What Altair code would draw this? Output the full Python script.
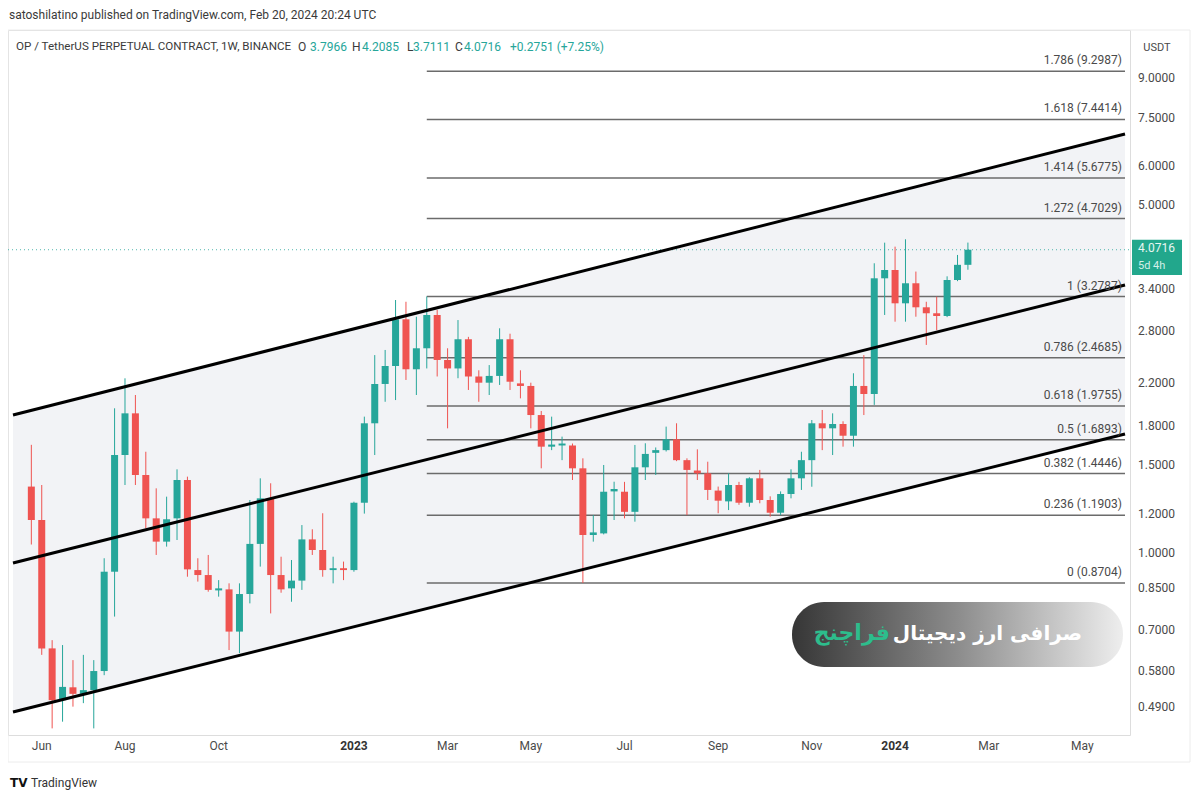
import altair as alt
import pandas as pd

# ---------------- data ----------------
first_week = "2022-05-30"
opens = [1.36, 1.165, 0.643, 0.506, 0.537, 0.521, 0.530, 0.579, 0.917, 1.574,
         1.909, 1.435, 1.174, 1.054, 1.174, 1.402, 0.924, 0.903, 0.841, 0.845,
         0.695, 0.827, 1.043, 1.288, 0.903, 0.849, 0.880, 1.065, 1.014, 0.924,
         0.932, 0.924, 1.262, 1.823, 2.187, 2.377, 2.95, 2.341, 2.58, 3.01,
         2.444, 2.35, 2.69, 2.264, 2.2, 2.27, 2.69, 2.193, 2.167, 1.894,
         1.636, 1.645, 1.645, 1.48, 1.087, 1.095, 1.33, 1.328, 1.21, 1.487,
         1.59, 1.61, 1.693, 1.537, 1.465, 1.446, 1.335, 1.27, 1.37, 1.262,
         1.413, 1.278, 1.205, 1.314, 1.413, 1.537, 1.823, 1.781, 1.817, 1.721,
         2.167, 2.088, 3.567, 3.707, 3.177, 3.486, 3.119, 3.034, 2.996, 3.539,
         3.7966]
highs = [1.65, 1.37, 0.668, 0.653, 0.609, 0.624, 0.609, 0.976, 1.954, 2.245,
         2.078, 1.598, 1.349, 1.298, 1.473, 1.424, 0.976, 0.991, 0.882, 0.869,
         0.869, 1.278, 1.413, 1.381, 0.983, 0.968, 1.138, 1.116, 1.202, 0.983,
         0.961, 1.268, 1.88, 2.5, 2.56, 3.226, 3.2, 2.986, 3.2787, 3.08,
         2.58, 2.94, 2.72, 2.33, 2.387, 2.83, 2.76, 2.33, 2.2, 1.93,
         1.88, 1.714, 1.66, 1.55, 1.192, 1.503, 1.391, 1.39, 1.649, 1.662,
         1.63, 1.795, 1.823, 1.55, 1.616, 1.526, 1.36, 1.446, 1.39, 1.42,
         1.469, 1.30, 1.33, 1.473, 1.598, 1.851, 1.939, 1.909, 1.84, 2.298,
         2.5, 3.824, 4.207, 4.13, 4.273, 3.68, 3.2, 3.276, 3.6, 3.974,
         4.2085]
lows = [1.04, 0.624, 0.444, 0.458, 0.491, 0.499, 0.444, 0.568, 0.745, 1.37,
        1.37, 1.121, 0.991, 1.03, 1.062, 0.896, 0.876, 0.836, 0.817, 0.638,
        0.629, 0.792, 0.939, 0.756, 0.832, 0.798, 0.843, 0.991, 0.896, 0.869,
        0.882, 0.917, 1.2, 1.574, 2.014, 2.03, 2.228, 2.078, 2.35, 2.264,
        1.781, 2.246, 2.127, 2.014, 2.078, 2.177, 2.127, 2.046, 1.781, 1.48,
        1.61, 1.537, 1.402, 0.8704, 1.054, 1.09, 1.165, 1.174, 1.156, 1.402,
        1.435, 1.6, 1.53, 1.192, 1.402, 1.278, 1.202, 1.22, 1.25, 1.239,
        1.259, 1.183, 1.192, 1.288, 1.339, 1.359, 1.61, 1.574, 1.636, 1.636,
        1.894, 1.985, 3.01, 2.918, 2.918, 2.986, 2.62, 2.806, 2.98, 3.52,
        3.7111]
closes = [1.165, 0.643, 0.506, 0.538, 0.521, 0.530, 0.579, 0.917, 1.574, 1.909,
          1.435, 1.174, 1.054, 1.169, 1.402, 0.927, 0.903, 0.843, 0.849, 0.695,
          0.827, 1.043, 1.288, 0.903, 0.845, 0.880, 1.065, 1.014, 0.924, 0.932,
          0.924, 1.262, 1.823, 2.187, 2.377, 2.95, 2.341, 2.58, 3.01, 2.444,
          2.35, 2.69, 2.264, 2.2, 2.27, 2.69, 2.21, 2.167, 1.894, 1.636,
          1.652, 1.66, 1.48, 1.087, 1.1, 1.328, 1.345, 1.21, 1.487, 1.582,
          1.61, 1.693, 1.537, 1.469, 1.446, 1.339, 1.274, 1.370, 1.262, 1.413,
          1.278, 1.205, 1.314, 1.413, 1.537, 1.823, 1.781, 1.817, 1.721, 2.167,
          2.088, 3.567, 3.707, 3.177, 3.486, 3.119, 3.034, 2.996, 3.539, 3.7965,
          4.0716]

fib_levels = ["1.786", "1.618", "1.414", "1.272", "1", "0.786", "0.618", "0.5", "0.382", "0.236", "0"]
fib_prices = [9.2987, 7.4414, 5.6775, 4.7029, 3.2787, 2.4685, 1.9755, 1.6893, 1.4446, 1.1903, 0.8704]
fib_start = "2023-02-20"

channel_dates = ["2022-05-17T16:00:00Z", "2024-06-03T16:00:00Z"]
channel_upper = [1.894, 6.958]
channel_middle = [0.955, 3.458]
channel_lower = [0.479, 1.735]

price_ticks = [0.49, 0.58, 0.7, 0.85, 1.0, 1.2, 1.5, 1.8, 2.2, 2.8, 3.4, 5.0, 6.0, 7.5, 9.0]
month_tick_dates = ["2022-06-06", "2022-08-01", "2022-10-03", "2023-03-06", "2023-05-01",
                    "2023-07-03", "2023-09-04", "2023-11-06", "2024-03-04", "2024-05-06"]
month_tick_labels = ["Jun", "Aug", "Oct", "Mar", "May", "Jul", "Sep", "Nov", "Mar", "May"]
year_tick_dates = ["2023-01-02", "2024-01-01"]
year_tick_labels = ["2023", "2024"]

last_price = 4.0716
UP, DOWN = "#26a69a", "#ef5350"
TXT = "#4a4a4a"
FONT = "Roboto"

# ---------------- frames ----------------
dates = pd.date_range(first_week, periods=len(opens), freq="7D").strftime("%Y-%m-%d").tolist()
candles = pd.DataFrame({"date": dates, "open": opens, "high": highs, "low": lows, "close": closes})
candles["col"] = [UP if c >= o else DOWN for o, c in zip(opens, closes)]

fib = pd.DataFrame({"level": fib_levels, "price": fib_prices})
fib["start"] = fib_start
fib["end"] = channel_dates[1]
fib["label"] = [f"{l} ({p:.4f})" for l, p in zip(fib_levels, fib_prices)]

chan_area = pd.DataFrame({"date": channel_dates, "lo": channel_lower, "hi": channel_upper})
chan_lines = pd.DataFrame({
    "x0": [channel_dates[0]] * 3, "x1": [channel_dates[1]] * 3,
    "p0": [channel_upper[0], channel_middle[0], channel_lower[0]],
    "p1": [channel_upper[1], channel_middle[1], channel_lower[1]],
})
ytick_df = pd.DataFrame({"price": price_ticks, "label": [f"{p:.4f}" for p in price_ticks]})
mtick_df = pd.DataFrame({"date": month_tick_dates, "label": month_tick_labels})
ytick_year_df = pd.DataFrame({"date": year_tick_dates, "label": year_tick_labels})
one = pd.DataFrame({"k": [0]})

W, H = 1122, 705
xs = alt.Scale(type="utc", domain=[alt.DateTime(year=2022, month=5, date=17, hours=16, utc=True),
                                   alt.DateTime(year=2024, month=6, date=3, hours=16, utc=True)])
ys = alt.Scale(type="log", domain=[0.4306, 11.26], nice=False)

area = alt.Chart(chan_area).mark_area(color="#f2f3f6").encode(
    x=alt.X("date:T", scale=xs, axis=None),
    y=alt.Y("lo:Q", scale=ys, axis=None),
    y2="hi:Q",
)

fib_rules = alt.Chart(fib).mark_rule(color="#6b6b6b", strokeWidth=1.5).encode(
    x=alt.X("start:T", scale=xs, axis=None), x2="end:T",
    y=alt.Y("price:Q", scale=ys, axis=None),
)
fib_text = alt.Chart(fib).mark_text(align="right", baseline="alphabetic", dy=-7, fontSize=12,
                                    font=FONT, color=TXT).encode(
    x=alt.value(W - 8), y=alt.Y("price:Q", scale=ys, axis=None), text="label:N",
)

price_line = alt.Chart(one).mark_rule(color=UP, strokeDash=[1, 3], strokeWidth=1, opacity=0.8).encode(
    x=alt.value(0), x2=alt.value(W), y=alt.datum(last_price, scale=ys, axis=None),
)

wicks = alt.Chart(candles).mark_rule(strokeWidth=1).encode(
    x=alt.X("date:T", scale=xs, axis=None),
    y=alt.Y("low:Q", scale=ys, axis=None), y2="high:Q",
    color=alt.Color("col:N", scale=None),
)
bodies = alt.Chart(candles).mark_bar(size=7).encode(
    x=alt.X("date:T", scale=xs, axis=None),
    y=alt.Y("open:Q", scale=ys, axis=None), y2="close:Q",
    color=alt.Color("col:N", scale=None),
)

chan = alt.Chart(chan_lines).mark_rule(color="#000000", strokeWidth=3).encode(
    x=alt.X("x0:T", scale=xs, axis=None), x2="x1:T",
    y=alt.Y("p0:Q", scale=ys, axis=None), y2="p1:Q",
)

# axis labels (drawn through the scales)
ylabels = alt.Chart(ytick_df).mark_text(align="left", baseline="middle", fontSize=12, font=FONT,
                                        color=TXT).encode(
    x=alt.value(W + 8), y=alt.Y("price:Q", scale=ys, axis=None), text="label:N")
mlabels = alt.Chart(mtick_df).mark_text(align="center", baseline="middle", fontSize=12, font=FONT,
                                        color=TXT).encode(
    x=alt.X("date:T", scale=xs, axis=None), y=alt.value(H + 11), text="label:N")
ylabels_year = alt.Chart(ytick_year_df).mark_text(align="center", baseline="middle", fontSize=12, font=FONT,
                                                  fontWeight="bold", color="#333333").encode(
    x=alt.X("date:T", scale=xs, axis=None), y=alt.value(H + 11), text="label:N")

# price label box on the axis
box = alt.Chart(one).mark_rect(color="#22a78c").encode(
    x=alt.value(W + 2), x2=alt.value(W + 52),
    y=alt.datum(last_price * 1.047, scale=ys, axis=None), y2=alt.datum(last_price * 0.89),
)
box_t1 = alt.Chart(one).mark_text(align="left", baseline="middle", fontSize=12, font=FONT,
                                  color="#e8f6f2", text=f"{last_price:.4f}").encode(
    x=alt.value(W + 8), y=alt.datum(last_price, scale=ys, axis=None), yOffset=alt.value(-2))
box_t2 = alt.Chart(one).mark_text(align="left", baseline="middle", fontSize=11, font=FONT,
                                  color="#d5efe8", text="5d 4h").encode(
    x=alt.value(W + 8), y=alt.datum(last_price, scale=ys, axis=None), yOffset=alt.value(16))

# frame
frame = alt.Chart(one).mark_rect(fill=None, stroke="#ececec", strokeWidth=1).encode(
    x=alt.value(0), x2=alt.value(1182), y=alt.value(0), y2=alt.value(732))


def txt(s, x, y, color="#3a3a3a", size=12, weight="normal", align="left", font=FONT):
    return alt.Chart(one).mark_text(text=s, align=align, baseline="middle", fontSize=size,
                                    fontWeight=weight, color=color, font=font).encode(
        x=alt.value(x), y=alt.value(y))


header = [
    txt("satoshilatino published on TradingView.com, Feb 20, 2024 20:24 UTC", 1, -15),
    txt("OP / TetherUS PERPETUAL CONTRACT, 1W, BINANCE", 8, 17, size=11.6),
    txt("O", 290, 17), txt("3.7966", 302, 17, UP),
    txt("H", 344, 17), txt("4.2085", 354, 17, UP),
    txt("L", 399, 17), txt("3.7111", 405, 17, UP),
    txt("C", 447, 17), txt("4.0716", 456, 17, UP),
    txt("+0.2751 (+7.25%)", 502, 17, UP),
    txt("USDT", W + 27, 18, TXT, 11, align="center"),
    txt("TV", 2, 753, "#111111", 12, "bold", font="DejaVu Sans"),
    txt("TradingView", 23, 753, "#333333", 12),
]

# watermark pill
pill = alt.Chart(one).mark_rect(
    cornerRadius=32,
    color=alt.Gradient(gradient="linear", x1=0, y1=0, x2=1, y2=0,
                       stops=[alt.GradientStop(color="#363636", offset=0),
                              alt.GradientStop(color="#8c8c8c", offset=0.5),
                              alt.GradientStop(color="#eeeeee", offset=1)]),
).encode(x=alt.value(784), x2=alt.value(1115), y=alt.value(572), y2=alt.value(637))
pill_white = txt("صرافی ارز دیجیتال", 1074, 604, "#ffffff", 20, "bold", align="right", font="DejaVu Sans")
pill_green = txt("فراچنج", 882, 603, "#2dbd8c", 22, "bold", align="right", font="DejaVu Sans")

# total size kept within the 1184 x 784 area inside the page margins (no scaling)
chart = alt.layer(
    area, frame, fib_rules, price_line, wicks, bodies, chan, fib_text, ylabels, mlabels, ylabels_year,
    box, box_t1, box_t2, pill, pill_white, pill_green, *header,
).properties(
    width=W, height=H, autosize="none",
    padding={"left": 0, "top": 22, "right": 62, "bottom": 57},
).configure_view(stroke=None).configure(background="white")

chart.save("out.html", embed_options={"renderer": "svg", "actions": False})
